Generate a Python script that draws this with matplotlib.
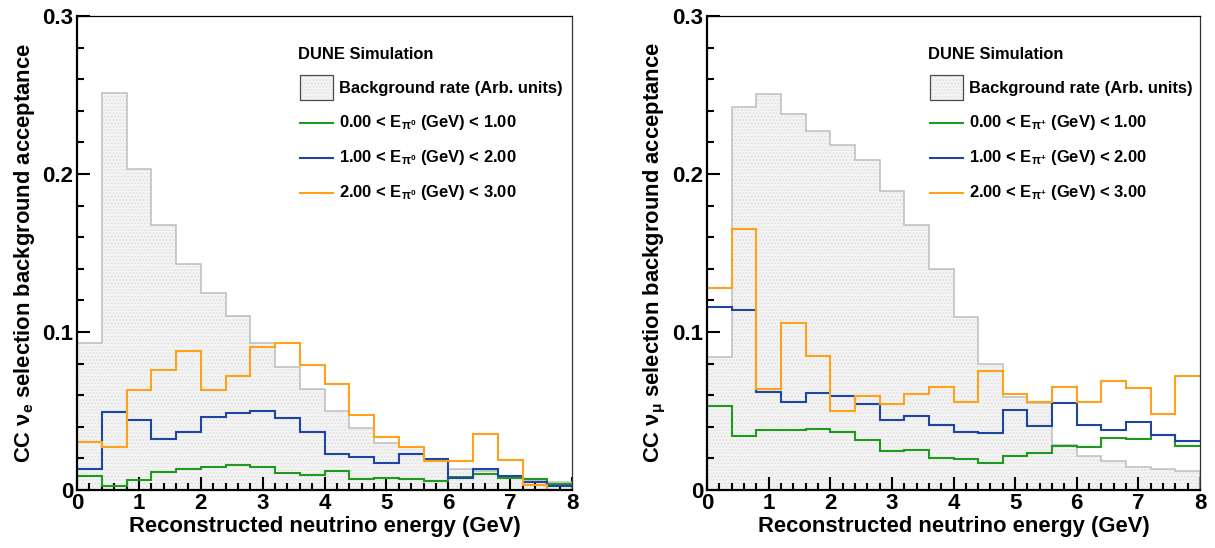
import numpy as np
import matplotlib
matplotlib.use("Agg")
import matplotlib.pyplot as plt
from matplotlib.patches import Rectangle
from matplotlib.ticker import MultipleLocator

# ---------------- data ----------------
bin_edges = [0.0, 0.4, 0.8, 1.2, 1.6, 2.0, 2.4, 2.8, 3.2, 3.6, 4.0,
             4.4, 4.8, 5.2, 5.6, 6.0, 6.4, 6.8, 7.2, 7.6, 8.0]

# nu_e panel (pi0 energy slices)
bg_e = [0.093, 0.251, 0.203, 0.168, 0.143, 0.125, 0.110, 0.093, 0.078, 0.064,
        0.050, 0.039, 0.030, 0.027, 0.019, 0.0135, 0.012, 0.009, 0.006, 0.005]
green_e = [0.0089, 0.0028, 0.0064, 0.0117, 0.0133, 0.0148, 0.0159, 0.0148, 0.0110, 0.0098,
           0.0120, 0.0071, 0.0077, 0.0072, 0.0060, 0.0080, 0.0102, 0.0074, 0.0070, 0.0038]
blue_e = [0.0131, 0.0494, 0.0440, 0.0324, 0.0367, 0.0460, 0.0490, 0.0500, 0.0456, 0.0366,
          0.0228, 0.0208, 0.0172, 0.0226, 0.0198, 0.0075, 0.0134, 0.0091, 0.0049, 0.0028]
orange_e = [0.0303, 0.0275, 0.0630, 0.0760, 0.0880, 0.0636, 0.0720, 0.0907, 0.0930, 0.0790,
            0.0670, 0.0476, 0.0336, 0.0272, 0.0182, 0.0182, 0.0357, 0.0193, 0.0034, 0.0000]

# nu_mu panel (pi+ energy slices)
bg_mu = [0.084, 0.2426, 0.2506, 0.238, 0.227, 0.2186, 0.209, 0.189, 0.168, 0.1397,
         0.1096, 0.0798, 0.0586, 0.0550, 0.0286, 0.0216, 0.0186, 0.0144, 0.0133, 0.0123]
green_mu = [0.053, 0.034, 0.038, 0.038, 0.0388, 0.0364, 0.0314, 0.0250, 0.0252, 0.0203,
            0.0195, 0.0172, 0.0218, 0.0233, 0.0281, 0.0271, 0.0326, 0.0322, 0.0349, 0.0281]
blue_mu = [0.1159, 0.1140, 0.0620, 0.0557, 0.0614, 0.0597, 0.0547, 0.0445, 0.0466, 0.0412,
           0.0365, 0.0360, 0.0506, 0.0402, 0.0552, 0.0410, 0.0381, 0.0428, 0.0349, 0.0311]
orange_mu = [0.128, 0.165, 0.064, 0.1055, 0.085, 0.0498, 0.0593, 0.0547, 0.0610, 0.0653,
             0.0555, 0.0756, 0.0607, 0.0554, 0.0654, 0.0554, 0.0688, 0.0646, 0.0480, 0.0720]

slice_labels = ["0.00 < E$_{{{p}}}$ (GeV) < 1.00",
                "1.00 < E$_{{{p}}}$ (GeV) < 2.00",
                "2.00 < E$_{{{p}}}$ (GeV) < 3.00"]
bg_label = "Background rate (Arb. units)"
sim_label = "DUNE Simulation"
xlabel = "Reconstructed neutrino energy (GeV)"
ylabels = ["CC $\\nu_{e}$ selection background acceptance",
           "CC $\\nu_{\\mu}$ selection background acceptance"]
particles = ["\\pi^{0}", "\\pi^{+}"]
xticks = [0, 1, 2, 3, 4, 5, 6, 7, 8]
yticks = [0, 0.1, 0.2, 0.3]
ytick_labels = ["0", "0.1", "0.2", "0.3"]

# ---------------- style ----------------
plt.rcParams['font.family'] = ['Liberation Sans', 'DejaVu Sans']
plt.rcParams['font.weight'] = 'bold'
plt.rcParams['mathtext.fontset'] = 'custom'
plt.rcParams['mathtext.rm'] = 'Liberation Sans:bold'
plt.rcParams['mathtext.it'] = 'Liberation Sans:bold'
plt.rcParams['mathtext.bf'] = 'Liberation Sans:bold'
plt.rcParams['mathtext.sf'] = 'Liberation Sans:bold'

C_GREEN = '#1f9a1f'
C_BLUE = '#1c46a0'
C_ORANGE = '#ffa21a'
C_BGLINE = '#bdbdbd'
C_BGFILL = '#f5f5f5'
C_DOTS = '#e2e2e2'

FS_TICK = 16
FS_LABEL = 15.8
FS_LEG = 11.9

W, H = 1215, 548
fig = plt.figure(figsize=(W / 100, H / 100), dpi=100)


def fx(px):
    return px / W


def fy(py):
    return (H - py) / H


panels = [
    dict(x0=77, x1=572, bg=bg_e, g=green_e, b=blue_e, o=orange_e),
    dict(x0=707, x1=1200, bg=bg_mu, g=green_mu, b=blue_mu, o=orange_mu),
]
top_px, bot_px = 16, 490

for i, p in enumerate(panels):
    ax = fig.add_axes([fx(p['x0']), fy(bot_px), (p['x1'] - p['x0']) / W, (bot_px - top_px) / H])
    # background rate: filled, dotted
    ax.stairs(p['bg'], bin_edges, fill=True, facecolor=C_BGFILL, edgecolor='none', zorder=1)
    ax.stairs(p['bg'], bin_edges, fill=True, facecolor='none', edgecolor=C_DOTS,
              hatch='.....', linewidth=0, zorder=1.1)
    ax.stairs(p['bg'], bin_edges, baseline=0, color=C_BGLINE, linewidth=1.1, zorder=2)
    for vals, col in ((p['g'], C_GREEN), (p['b'], C_BLUE), (p['o'], C_ORANGE)):
        ax.stairs(vals, bin_edges, baseline=None, color=col, linewidth=1.5, zorder=3)

    ax.set_xlim(0, 8)
    ax.set_ylim(0, 0.3)
    ax.set_xticks(xticks)
    ax.set_xticklabels([str(t) for t in xticks])
    ax.set_yticks(yticks)
    ax.set_yticklabels(ytick_labels)
    ax.xaxis.set_minor_locator(MultipleLocator(0.2))
    ax.yaxis.set_minor_locator(MultipleLocator(0.02))
    ax.tick_params(which='both', direction='in', top=False, right=False,
                   width=1.5, labelsize=FS_TICK, colors='black')
    ax.tick_params(which='major', length=9.5, pad=2.5)
    ax.tick_params(which='minor', length=5)
    for lab in ax.get_xticklabels() + ax.get_yticklabels():
        lab.set_fontweight('bold')
    ax.spines['left'].set_linewidth(1.6)
    ax.spines['bottom'].set_linewidth(1.6)
    ax.spines['top'].set_linewidth(0.9)
    ax.spines['right'].set_linewidth(0.9)
    ax.spines['right'].set_color('#333333')
    ax.set_zorder(1)
    for s in ax.spines.values():
        s.set_zorder(5)

    ax.set_xlabel(xlabel, fontsize=FS_LABEL, fontweight='bold')
    ax.xaxis.label.set_va('baseline')
    ax.xaxis.set_label_coords(0.5, (bot_px - 532) / (bot_px - top_px))
    ax.set_ylabel(ylabels[i], fontsize=FS_LABEL, fontweight='bold')
    ax.yaxis.label.set_va('center')
    ax.yaxis.label.set_ha('center')
    ax.yaxis.set_label_coords((25 - 77) / (p['x1'] - p['x0']), 0.5)

    # legend-like annotation block (positions in pixels relative to axes left)
    L = p['x0']
    fig.text(fx(L + 221), fy(59), sim_label, fontsize=FS_LEG, fontweight='bold',
             ha='left', va='baseline')
    fig.patches.append(Rectangle((fx(L + 223), fy(100)), 33 / W, 25 / H,
                                 transform=fig.transFigure, facecolor=C_BGFILL,
                                 edgecolor='none', linewidth=0))
    fig.patches.append(Rectangle((fx(L + 223), fy(100)), 33 / W, 25 / H,
                                 transform=fig.transFigure, facecolor='none',
                                 edgecolor=C_DOTS, linewidth=0, hatch='.....'))
    fig.patches.append(Rectangle((fx(L + 223), fy(100)), 33 / W, 25 / H,
                                 transform=fig.transFigure, facecolor='none',
                                 edgecolor='#4a4a4a', linewidth=0.9))
    fig.text(fx(L + 262), fy(93), bg_label, fontsize=FS_LEG, fontweight='bold',
             ha='left', va='baseline')
    for j, (col, ly, by) in enumerate(((C_GREEN, 123, 127), (C_BLUE, 158, 162), (C_ORANGE, 193, 197))):
        fig.add_artist(plt.Line2D([fx(L + 223), fx(L + 256)], [fy(ly), fy(ly)],
                                  color=col, linewidth=1.5, transform=fig.transFigure))
        fig.text(fx(L + 262), fy(by), slice_labels[j].format(p=particles[i]),
                 fontsize=FS_LEG, fontweight='bold', ha='left', va='baseline')

fig.savefig("out.png", dpi=100, facecolor='white')
